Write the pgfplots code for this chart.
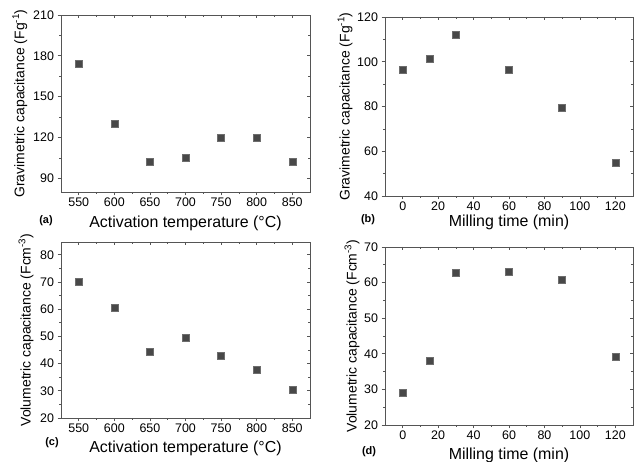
\documentclass[border=0pt]{standalone}
\usepackage{pgfplots}
\pgfplotsset{compat=1.18}
\usepackage{fontspec}
\setmainfont{Liberation Sans}
\definecolor{axgray}{RGB}{85,85,85}
\definecolor{mk}{RGB}{72,72,72}
\pgfplotsset{
  base/.style={scale only axis, anchor=south west,
    axis line style={draw=axgray, line width=0.7pt},
    every tick/.style={draw=axgray, line width=0.7pt},
    major tick length=3.5bp, minor tick length=2bp,
    minor tick num=1,
    tick label style={font=\fontsize{12.5}{14}\selectfont, text=black},
    xticklabel style={yshift=1bp},
    /pgf/number format/assume math mode=true,
    label style={font=\fontsize{14}{16}\selectfont},
    xlabel style={font=\fontsize{16}{18}\selectfont, anchor=center},
    ylabel style={anchor=center},
  },
  main/.style={base, xtick pos=left, ytick pos=left, tick align=outside},
  over/.style={base, xtick pos=right, ytick pos=right, tick align=inside,
    xticklabels={}, yticklabels={}},
  pts/.style={only marks, mark=square*, mark size=3.5bp, mark options={fill=mk, draw=mk!80}},
}
\begin{document}
\begin{tikzpicture}[x=1bp,y=1bp]
\path[use as bounding box] (0,0) rectangle (634,462);
% (a)
\begin{axis}[main, at={(61bp,270bp)}, width=249bp, height=177bp,
  xmin=525, xmax=875, ymin=80, ymax=210,
  xtick={550,600,...,850}, ytick={90,120,...,210},
  xlabel={Activation temperature (°C)},
  ylabel={Gravimetric capacitance (Fg\textsuperscript{-1})},
  xlabel style={at={(axis description cs:0.5,-0.178)}},
  ylabel style={at={(axis description cs:-0.165,0.5)}}]
\addplot[pts] coordinates {(550,174) (600,130) (650,102) (700,105.2) (750,120.1) (800,120.1) (850,102)};
\end{axis}
\begin{axis}[over, at={(61bp,270bp)}, width=249bp, height=177bp,
  xmin=525, xmax=875, ymin=80, ymax=210,
  xtick={550,600,...,850}, ytick={90,120,...,210}]
\end{axis}
% (b)
\begin{axis}[main, at={(385bp,266bp)}, width=248bp, height=179bp,
  xmin=-10, xmax=130, ymin=40, ymax=120,
  xtick={0,20,...,120}, ytick={40,60,...,120},
  xlabel={Milling time (min)},
  ylabel={Gravimetric capacitance (Fg\textsuperscript{-1})},
  xlabel style={at={(axis description cs:0.5,-0.145)}},
  ylabel style={at={(axis description cs:-0.161,0.5)}}]
\addplot[pts] coordinates {(0,96.4) (15,101.3) (30,112.2) (60,96.4) (90,79.5) (120,54.9)};
\end{axis}
\begin{axis}[over, at={(385bp,266bp)}, width=248bp, height=179bp,
  xmin=-10, xmax=130, ymin=40, ymax=120,
  xtick={0,20,...,120}, ytick={40,60,...,120}]
\end{axis}
% (c)
\begin{axis}[main, at={(61bp,44bp)}, width=249bp, height=176bp,
  xmin=525, xmax=875, ymin=20, ymax=84.7,
  xtick={550,600,...,850}, ytick={20,30,...,80},
  xlabel={Activation temperature (°C)},
  ylabel={Volumetric capacitance (Fcm\textsuperscript{-3})},
  xlabel style={at={(axis description cs:0.5,-0.173)}},
  ylabel style={at={(axis description cs:-0.14,0.5)}}]
\addplot[pts] coordinates {(550,70.2) (600,60.6) (650,44.4) (700,49.6) (750,42.8) (800,37.6) (850,30.3)};
\end{axis}
\begin{axis}[over, at={(61bp,44bp)}, width=249bp, height=176bp,
  xmin=525, xmax=875, ymin=20, ymax=84.7,
  xtick={550,600,...,850}, ytick={20,30,...,80}]
\end{axis}
% (d)
\begin{axis}[main, at={(385bp,37bp)}, width=248bp, height=178bp,
  xmin=-10, xmax=130, ymin=20, ymax=70,
  xtick={0,20,...,120}, ytick={20,30,...,70},
  xlabel={Milling time (min)},
  ylabel={Volumetric capacitance (Fcm\textsuperscript{-3})},
  xlabel style={at={(axis description cs:0.5,-0.169)}},
  ylabel style={at={(axis description cs:-0.133,0.5)}}]
\addplot[pts] coordinates {(0,29.1) (15,38.1) (30,62.8) (60,63.2) (90,60.9) (120,39.3)};
\end{axis}
\begin{axis}[over, at={(385bp,37bp)}, width=248bp, height=178bp,
  xmin=-10, xmax=130, ymin=20, ymax=70,
  xtick={0,20,...,120}, ytick={20,30,...,70}]
\end{axis}
\node[font=\bfseries\fontsize{11}{13}\selectfont] at (46,241) {(a)};
\node[font=\bfseries\fontsize{11}{13}\selectfont] at (368,242) {(b)};
\node[font=\bfseries\fontsize{11}{13}\selectfont] at (52,19) {(c)};
\node[font=\bfseries\fontsize{11}{13}\selectfont] at (369,10) {(d)};
\end{tikzpicture}
\end{document}
